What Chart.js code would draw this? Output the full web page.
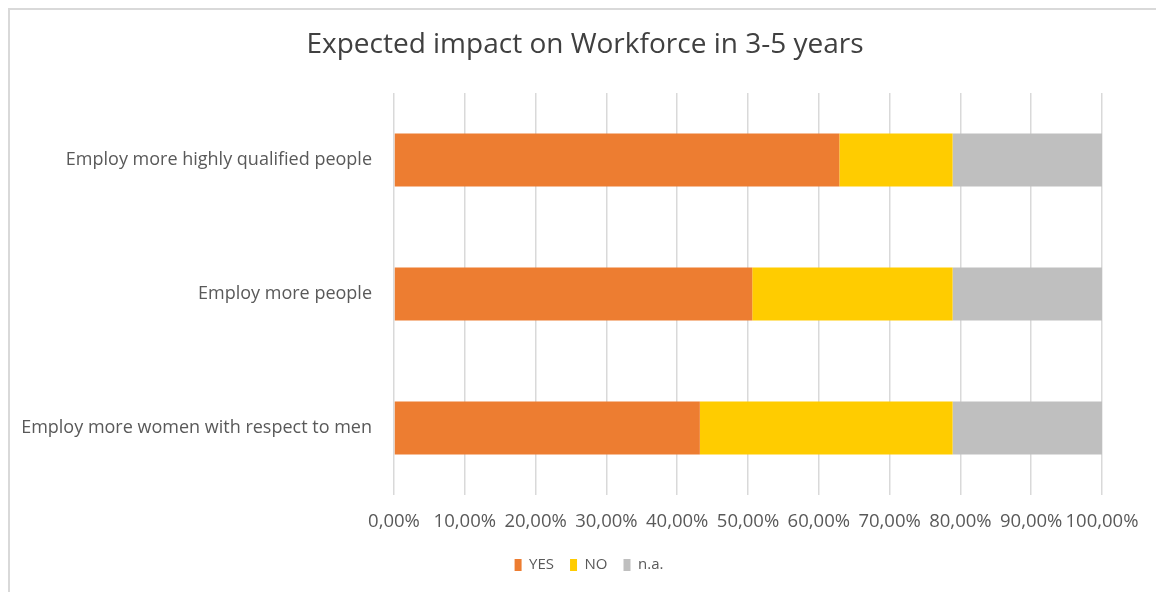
<!DOCTYPE html>
<html>
<head>
<meta charset="utf-8">
<title>Expected impact on Workforce in 3-5 years</title>
<script src="https://cdn.jsdelivr.net/npm/chart.js@4/dist/chart.umd.min.js"></script>
<style>
  html, body { margin: 0; padding: 0; background: #ffffff; }
  #wrap { width: 1156px; height: 592px; position: relative; }
</style>
</head>
<body>
<div id="wrap"><canvas id="chart" width="1156" height="592"></canvas></div>
<script>
// Survey answers, share of respondents (%)
const categories = [
  'Employ more highly qualified people',
  'Employ more people',
  'Employ more women with respect to men'
];
const yesValues = [62.9, 50.6, 43.2];
const noValues  = [16.0, 28.3, 35.7];
const naValues  = [21.1, 21.1, 21.1];
const seriesNames = ['YES', 'NO', 'n.a.'];
const tickValues = [0, 10, 20, 30, 40, 50, 60, 70, 80, 90, 100];

const FONT = "'Open Sans', 'Liberation Sans', sans-serif";
const TEXT = '#595959';

// Light frame along the top and left edges of the chart
const framePlugin = {
  id: 'frame',
  beforeDraw(chart) {
    const ctx = chart.ctx;
    ctx.save();
    ctx.fillStyle = '#ffffff';
    ctx.fillRect(0, 0, chart.width, chart.height);
    ctx.strokeStyle = '#d9d9d9';
    ctx.lineWidth = 2;
    ctx.beginPath();
    ctx.moveTo(9, chart.height);
    ctx.lineTo(9, 9);
    ctx.lineTo(chart.width, 9);
    ctx.stroke();
    ctx.restore();
  }
};

// Center the title and legend on the whole frame rather than on the padded area
const centerBlocksPlugin = {
  id: 'centerBlocks',
  afterLayout(chart) {
    const t = chart.titleBlock;
    if (t) { t.left += 34; t.right += 34; }
    const l = chart.legend;
    if (l) { l.left += 38; l.right += 38; }
  }
};

new Chart(document.getElementById('chart'), {
  type: 'bar',
  data: {
    labels: categories,
    datasets: [
      { label: seriesNames[0], data: yesValues, backgroundColor: '#ED7D31' },
      { label: seriesNames[1], data: noValues,  backgroundColor: '#FFCC00' },
      { label: seriesNames[2], data: naValues,  backgroundColor: '#BFBFBF' }
    ]
  },
  options: {
    indexAxis: 'y',
    responsive: false,
    animation: false,
    events: [],
    layout: { padding: { left: 0, right: 54, top: 0, bottom: 9.5 } },
    datasets: { bar: { categoryPercentage: 1, barPercentage: 0.395, borderWidth: 0 } },
    scales: {
      x: {
        stacked: true,
        min: 0,
        max: 100,
        afterBuildTicks(scale) { scale.ticks = tickValues.map(v => ({ value: v })); },
        afterFit(scale) { scale.height = 46.5; },
        grid: { color: '#d9d9d9', lineWidth: 1.5, drawTicks: false },
        border: { display: false },
        ticks: {
          autoSkip: false,
          padding: 16,
          color: TEXT,
          font: { family: FONT, size: 18.5 },
          maxRotation: 0,
          minRotation: 0,
          callback: v => v.toFixed(2).replace('.', ',') + '%'
        }
      },
      y: {
        stacked: true,
        afterFit(scale) { scale.width = 394; },
        grid: { display: false, drawTicks: false },
        border: { display: false },
        ticks: {
          padding: 22,
          color: TEXT,
          font: { family: FONT, size: 18 }
        }
      }
    },
    plugins: {
      title: {
        display: true,
        text: 'Expected impact on Workforce in 3-5 years',
        color: '#404040',
        font: { family: FONT, size: 28, weight: 'normal', lineHeight: 1.2 },
        padding: { top: 28.2, bottom: 31.2 }
      },
      legend: {
        position: 'bottom',
        labels: {
          color: TEXT,
          font: { family: FONT, size: 15 },
          boxWidth: 7,
          boxHeight: 12,
          padding: 16
        }
      },
      tooltip: { enabled: false }
    }
  },
  plugins: [framePlugin, centerBlocksPlugin]
});
</script>
</body>
</html>
